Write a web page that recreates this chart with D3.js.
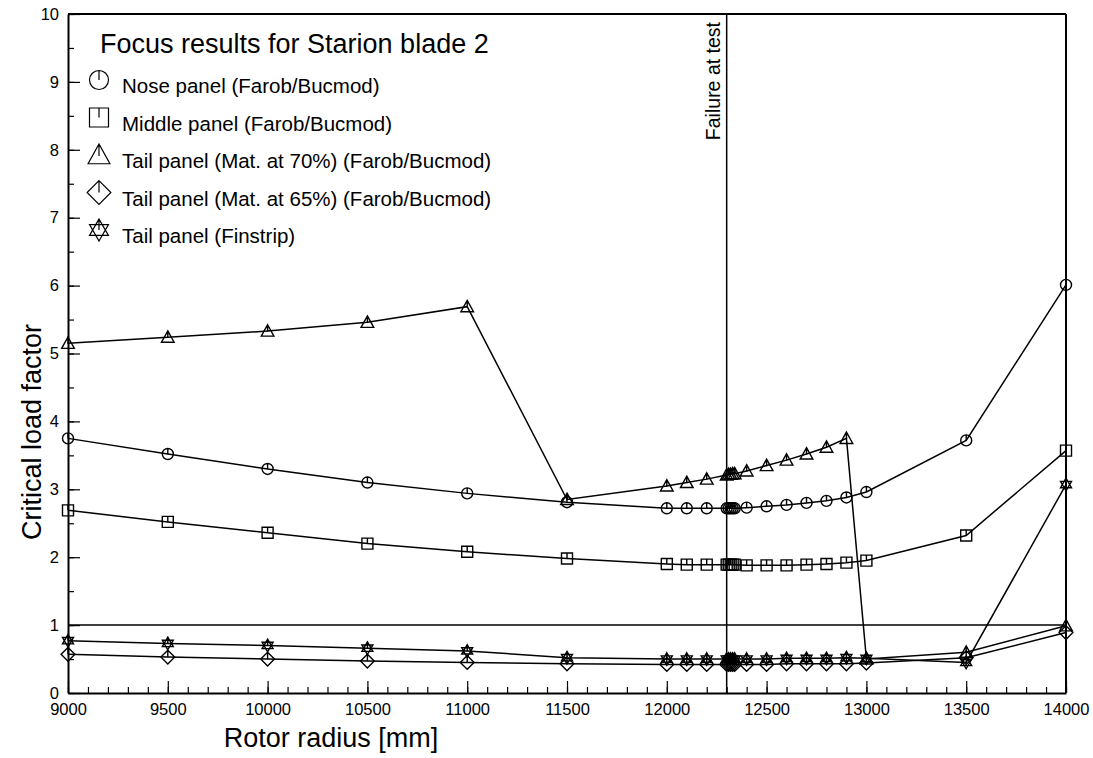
<!DOCTYPE html>
<html>
<head>
<meta charset="utf-8">
<script src="https://cdn.jsdelivr.net/npm/d3@7"></script>
<style>
  body { margin: 0; background: #fff; }
  svg { font-family: "Liberation Sans", Arial, sans-serif; }
</style>
</head>
<body>
<svg></svg>
<script>
const width = 1093;
const height = 758;

// rotor radius [mm]
const radius = [9000, 9500, 10000, 10500, 11000, 11500, 12000, 12100, 12200,
                12300, 12310, 12320, 12330, 12340,
                12400, 12500, 12600, 12700, 12800, 12900, 13000, 13500, 14000];

const nosePanel = [3.75, 3.52, 3.30, 3.10, 2.94, 2.81, 2.72, 2.72, 2.72,
                   2.72, 2.72, 2.72, 2.72, 2.72,
                   2.73, 2.75, 2.77, 2.80, 2.83, 2.88, 2.96, 3.72, 6.01];
const middlePanel = [2.69, 2.52, 2.36, 2.20, 2.08, 1.98, 1.90, 1.89, 1.89,
                     1.89, 1.89, 1.89, 1.89, 1.89,
                     1.88, 1.88, 1.88, 1.89, 1.90, 1.92, 1.95, 2.32, 3.57];
const tail70 = [5.15, 5.24, 5.33, 5.46, 5.69, 2.85, 3.05, 3.10, 3.15,
                3.21, 3.22, 3.22, 3.23, 3.23,
                3.27, 3.35, 3.43, 3.52, 3.62, 3.75, 0.50, 0.60, 0.99];
const tail65 = [0.57, 0.53, 0.50, 0.47, 0.45, 0.43, 0.42, 0.42, 0.42,
                0.42, 0.42, 0.42, 0.42, 0.42,
                0.42, 0.42, 0.43, 0.43, 0.43, 0.43, 0.44, 0.52, 0.89];
const finstrip = [0.77, 0.73, 0.70, 0.66, 0.62, 0.52, 0.50, 0.50, 0.50,
                  0.50, 0.50, 0.50, 0.50, 0.50,
                  0.50, 0.50, 0.51, 0.51, 0.51, 0.52, 0.51, 0.45, 3.07];

const seriesNames = ["Nose panel (Farob/Bucmod)", "Middle panel (Farob/Bucmod)",
                     "Tail panel (Mat. at 70%) (Farob/Bucmod)",
                     "Tail panel (Mat. at 65%) (Farob/Bucmod)", "Tail panel (Finstrip)"];
const seriesSymbols = ["circle", "square", "triangle", "diamond", "star"];
const seriesValues = [nosePanel, middlePanel, tail70, tail65, finstrip];

const failureRadius = 12300;
const limitLoad = 1;

const xTicks = [9000, 9500, 10000, 10500, 11000, 11500, 12000, 12500, 13000, 13500, 14000];
const yTicks = [0, 1, 2, 3, 4, 5, 6, 7, 8, 9, 10];

const margin = {top: 14, right: 26, bottom: 65, left: 68};

const svg = d3.select("svg")
              .attr("width", width)
              .attr("height", height);

const x = d3.scaleLinear()
            .domain([9000, 14000])
            .range([margin.left, width - margin.right - 1]);

const y = d3.scaleLinear()
            .domain([0, 10])
            .range([height - margin.bottom, margin.top]);

// symbol outlines with a small tick from the top down to the centre
function symbolPath(type, r) {
  if (type === "circle")
    return `M${-r},0A${r},${r} 0 1,0 ${r},0A${r},${r} 0 1,0 ${-r},0ZM0,0V${-r}`;
  if (type === "square")
    return `M${-r},${-r}H${r}V${r}H${-r}ZM0,${-r}V0`;
  if (type === "triangle") {
    const h = r * 1.15;
    return `M0,${-h}L${h},${h * 0.8}H${-h}ZM0,${-h}V${h * 0.1}`;
  }
  if (type === "diamond") {
    const d = r * 1.25;
    return `M0,${-d}L${d},0L0,${d}L${-d},0ZM0,${-d}V0`;
  }
  const s = r * 1.15, c = s * 0.866;
  return `M0,${-s}L${c},${s / 2}H${-c}ZM0,${s}L${c},${-s / 2}H${-c}ZM0,${-s}V0`;
}

// frame
svg.append("g")
   .attr("fill", "none")
   .attr("stroke", "#000")
   .attr("stroke-width", 2)
   .call(g => g.append("line")
               .attr("x1", x(9000)).attr("x2", x(14000))
               .attr("y1", y(10)).attr("y2", y(10)))
   .call(g => g.append("line")
               .attr("x1", x(14000)).attr("x2", x(14000))
               .attr("y1", y(10)).attr("y2", y(0)));

// minor ticks
svg.append("g")
   .attr("transform", `translate(0,${y(0)})`)
   .call(d3.axisBottom(x).tickValues(d3.range(9000, 14001, 100)).tickSize(-6).tickFormat(""))
   .call(g => g.select(".domain").remove())
   .selectAll("line").attr("stroke-width", 1.2);

svg.append("g")
   .attr("transform", `translate(${x(9000)},0)`)
   .call(d3.axisLeft(y).tickValues(d3.range(0, 10.01, 0.5)).tickSize(-6).tickFormat(""))
   .call(g => g.select(".domain").remove())
   .selectAll("line").attr("stroke-width", 1.2);

// major ticks with labels
const xAxis = svg.append("g")
   .attr("transform", `translate(0,${y(0)})`)
   .call(d3.axisBottom(x).tickValues(xTicks).tickFormat(d3.format("d"))
           .tickSize(-12).tickSizeOuter(0).tickPadding(10));

const yAxis = svg.append("g")
   .attr("transform", `translate(${x(9000)},0)`)
   .call(d3.axisLeft(y).tickValues(yTicks).tickSize(-12).tickSizeOuter(0).tickPadding(9));

[xAxis, yAxis].forEach(a => {
  a.select(".domain").attr("stroke-width", 2);
  a.selectAll(".tick line").attr("stroke-width", 1.2);
  a.selectAll("text")
   .attr("font-family", "Liberation Sans, Arial, sans-serif")
   .style("font-size", "16.5px")
   .attr("fill", "#000");
});

// reference lines
svg.append("line")
   .attr("x1", x(9000)).attr("x2", x(14000))
   .attr("y1", y(limitLoad)).attr("y2", y(limitLoad))
   .attr("stroke", "#000")
   .attr("stroke-width", 1.5);

svg.append("line")
   .attr("x1", x(failureRadius)).attr("x2", x(failureRadius))
   .attr("y1", y(10)).attr("y2", y(0))
   .attr("stroke", "#000")
   .attr("stroke-width", 1.5);

svg.append("text")
   .attr("transform", `translate(${x(failureRadius) - 7},22) rotate(-90)`)
   .attr("text-anchor", "end")
   .style("font-size", "19.5px")
   .text("Failure at test");

// series
const line = d3.line()
               .x(d => x(d[0]))
               .y(d => y(d[1]));

seriesValues.forEach((vals, i) => {
  const pts = radius.map((r, j) => [r, vals[j]]);

  svg.append("path")
     .datum(pts)
     .attr("d", line)
     .attr("fill", "none")
     .attr("stroke", "#000")
     .attr("stroke-width", 1.5);

  svg.append("g")
     .selectAll("path")
     .data(pts)
     .enter()
     .append("path")
     .attr("transform", d => `translate(${x(d[0])},${y(d[1])})`)
     .attr("d", symbolPath(seriesSymbols[i], 5.5))
     .attr("fill", "none")
     .attr("stroke", "#000")
     .attr("stroke-width", 1.4);
});

// legend
svg.append("text")
   .attr("x", 100)
   .attr("y", 53)
   .style("font-size", "27px")
   .text("Focus results for Starion blade 2");

const legend = svg.append("g")
                  .selectAll("g")
                  .data(seriesNames)
                  .enter()
                  .append("g")
                  .attr("transform", (d, i) => `translate(0,${93 + i * 37.5})`);

legend.append("path")
      .attr("transform", "translate(99,-13)")
      .attr("d", (d, i) => symbolPath(seriesSymbols[i], 9.5))
      .attr("fill", "none")
      .attr("stroke", "#000")
      .attr("stroke-width", 1.2);

legend.append("text")
      .attr("x", 122)
      .attr("y", 0)
      .style("font-size", "20.5px")
      .text(d => d);

// axis titles
svg.append("text")
   .attr("x", 331)
   .attr("y", 747)
   .attr("text-anchor", "middle")
   .style("font-size", "27px")
   .text("Rotor radius [mm]");

svg.append("text")
   .attr("transform", "translate(41,432) rotate(-90)")
   .attr("text-anchor", "middle")
   .style("font-size", "27px")
   .text("Critical load factor");
</script>
</body>
</html>
